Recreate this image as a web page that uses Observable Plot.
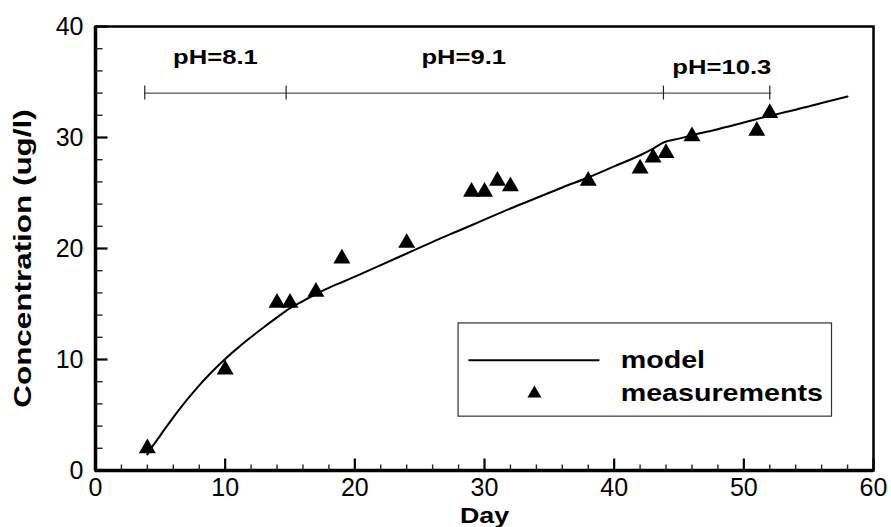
<!DOCTYPE html>
<html><head><meta charset="utf-8">
<script src="https://cdn.jsdelivr.net/npm/d3@7"></script>
<script src="https://cdn.jsdelivr.net/npm/@observablehq/plot@0.6"></script>
<style>
body{margin:0;background:#fff}
svg{display:block}
</style>
</head><body><div id="chart"></div>
<script>
// ---- data ----
const measDay  = [4, 10, 14, 15, 17, 19, 24, 29, 30, 31, 32, 38, 42, 43, 44, 46, 51, 52];
const measConc = [2.0, 9.1, 15.1, 15.1, 16.1, 19.1, 20.5, 25.1, 25.1, 26.1, 25.6, 26.1, 27.2, 28.2, 28.6, 30.1, 30.6, 32.2];

const modelDay  = [4, 4.5, 5, 6, 7, 8, 9, 10, 11, 12, 13, 14, 14.7, 15, 16, 17, 18, 19, 20, 22, 24, 26, 28, 30, 32, 34, 36, 38, 40, 42, 43, 43.8, 45, 46, 48, 50, 52, 54, 56, 58];
const modelConc = [1.45, 2.35, 3.17, 4.79, 6.29, 7.67, 8.92, 10.05, 11.07, 12.02, 12.93, 13.8, 14.38, 14.62, 15.27, 15.9, 16.45, 16.96, 17.46, 18.5, 19.55, 20.6, 21.6, 22.6, 23.6, 24.55, 25.5, 26.4, 27.4, 28.4, 29.0, 29.55, 29.9, 30.2, 30.75, 31.35, 31.95, 32.5, 33.1, 33.7];

const phBreaks   = [3.8, 14.7, 43.8, 52];
const phLevel    = 34;
const phLabels   = ["pH=8.1", "pH=9.1", "pH=10.3"];
const phLabelDay = [9.25, 28.4, 48.3];
const phLabelY   = [37.2, 37.2, 36.3];

const xMajorTicks = [0, 10, 20, 30, 40, 50, 60];
const yMajorTicks = [0, 10, 20, 30, 40];
const xMinorTicks = d3.range(0, 61, 2).filter(d => d % 10 !== 0);
const yMinorTicks = d3.range(0, 41, 2).filter(d => d % 10 !== 0);

const legendLabels = ["model", "measurements"];

// legend layout (in data units of the chart)
const LEG = {x1: 28.0, x2: 56.8, y1: 4.85, y2: 13.25,
  lineX1: 28.8, lineX2: 38.9, lineY: 9.94, triX: 33.85, triY: 6.94, textX: 40.5};

const meas  = measDay.map((d, i) => ({day: d, conc: measConc[i]}));
const model = modelDay.map((d, i) => ({day: d, conc: modelConc[i]}));
const phLab = phLabels.map((t, i) => ({t, day: phLabelDay[i], y: phLabelY[i]}));

const FONT = "'Liberation Sans', Arial, Helvetica, sans-serif";

// plot geometry: used to convert pixel tick lengths into data units
const W = 891, H = 527, ML = 95, MR = 18, MT = 26, MB = 57;
const pxX = (W - ML - MR) / 60;   // px per day
const pxY = (H - MT - MB) / 40;   // px per ug/l
const STRETCH = () => "stretch";

const chart = Plot.plot({
  width: W,
  height: H,
  marginLeft: ML,
  marginRight: MR,
  marginTop: MT,
  marginBottom: MB,
  style: {fontFamily: FONT, background: "#fff", color: "#000"},
  x: {domain: [0, 60]},
  y: {domain: [0, 40]},
  marks: [
    // tick labels
    Plot.axisX({ticks: xMajorTicks, tickSize: 0, tickPadding: 8, fontSize: 25, label: null, tickFormat: d => String(d)}),
    Plot.axisY({ticks: yMajorTicks, tickSize: 0, tickPadding: 12, fontSize: 25, label: null, tickFormat: d => String(d)}),
    // pH bar
    Plot.ruleY([phLevel], {x1: phBreaks[0], x2: phBreaks[3] + 0.15, stroke: "#555", strokeWidth: 1.2}),
    Plot.ruleX(phBreaks, {x: d => d, y1: phLevel - 7 / pxY, y2: phLevel + 7 / pxY, stroke: "#222", strokeWidth: 1.2}),
    Plot.text(phLab, {x: "day", y: "y", text: "t", fontSize: 21, fontWeight: "bold", fill: "#000", ariaLabel: STRETCH}),
    // model curve
    Plot.line(model, {x: "day", y: "conc", stroke: "#000", strokeWidth: 2, curve: "monotone-x"}),
    // measurements
    Plot.dot(meas, {x: "day", y: "conc", symbol: "triangle", r: 6.3, fill: "#000", stroke: "none"}),
    // legend
    Plot.rect([LEG], {x1: "x1", x2: "x2", y1: "y1", y2: "y2", fill: "#fff", stroke: "#333", strokeWidth: 1.2}),
    Plot.ruleY([LEG.lineY], {x1: LEG.lineX1, x2: LEG.lineX2, stroke: "#000", strokeWidth: 2}),
    Plot.dot([LEG], {x: "triX", y: "triY", symbol: "triangle", r: 5.2, fill: "#000", stroke: "none"}),
    Plot.text(legendLabels, {x: LEG.textX, y: (d, i) => i === 0 ? LEG.lineY : LEG.triY, text: d => d,
      textAnchor: "start", fontSize: 23.5, fontWeight: "bold", fill: "#000", ariaLabel: STRETCH}),
    // axis titles
    Plot.text(["Day"], {frameAnchor: "bottom", textAnchor: "middle", lineAnchor: "top", dy: 37, text: d => d,
      fontSize: 22, fontWeight: "bold", fill: "#000", ariaLabel: STRETCH}),
    Plot.text(["Concentration (ug/l)"], {frameAnchor: "left", textAnchor: "middle", rotate: -90, dx: -72, dy: 10, text: d => d,
      fontSize: 24, fontWeight: "bold", fill: "#000", ariaLabel: () => "stretchY"}),
    // frame and inward ticks
    Plot.frame({stroke: "#000", strokeWidth: 2.5}),
    Plot.ruleX([0], {stroke: "#000", strokeWidth: 3.5}),
    Plot.ruleY([0], {stroke: "#000", strokeWidth: 3.5}),
    Plot.link(xMajorTicks, {x1: d => d, x2: d => d, y1: 0, y2: 12 / pxY, stroke: "#000", strokeWidth: 2.2}),
    Plot.link(xMinorTicks, {x1: d => d, x2: d => d, y1: 0, y2: 6 / pxY, stroke: "#222", strokeWidth: 1.4}),
    Plot.link(yMajorTicks, {y1: d => d, y2: d => d, x1: 0, x2: 12 / pxX, stroke: "#000", strokeWidth: 2.2}),
    Plot.link(yMinorTicks, {y1: d => d, y2: d => d, x1: 0, x2: 7 / pxX, stroke: "#222", strokeWidth: 1.4})
  ]
});

// widen bold labels horizontally to match the reference typeface
const stretch = (t, s) => {
  const tr = t.getAttribute("transform");
  if (tr) t.setAttribute("transform", tr + ` scale(${s},1)`);
  else {
    const x = +t.getAttribute("x") || 0, y = +t.getAttribute("y") || 0;
    t.setAttribute("transform", `translate(${x},${y}) scale(${s},1) translate(${-x},${-y})`);
  }
};
chart.querySelectorAll('text[aria-label="stretch"]').forEach(t => stretch(t, 1.22));
chart.querySelectorAll('text[aria-label="stretchY"]').forEach(t => stretch(t, 1.31));
document.getElementById("chart").appendChild(chart);
</script>
</body></html>
